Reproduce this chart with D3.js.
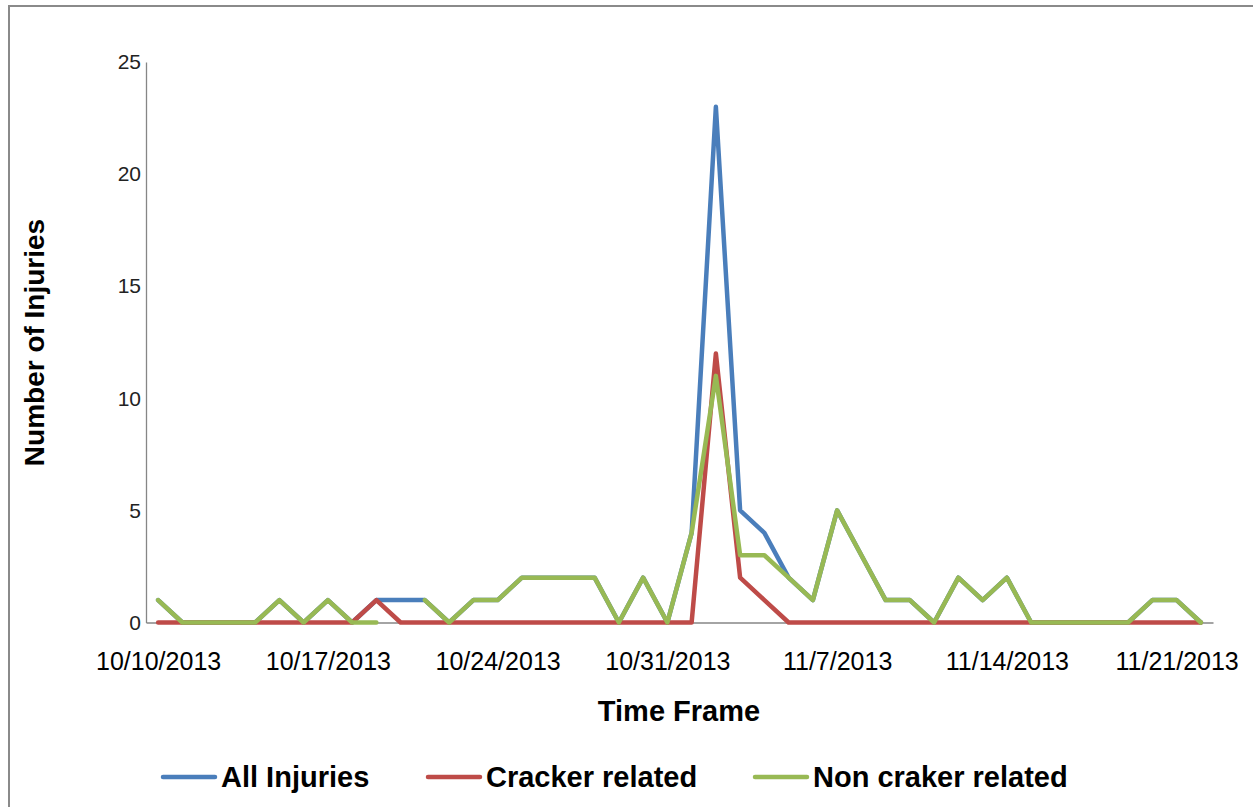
<!DOCTYPE html>
<html>
<head>
<meta charset="utf-8">
<script src="https://cdn.jsdelivr.net/npm/d3@7"></script>
<style>
  html, body { margin: 0; padding: 0; background: #fff; }
  svg { display: block; }
</style>
</head>
<body>
<svg id="chart" width="1253" height="807"></svg>
<script>
const dates = [
  "10/10/2013","10/11/2013","10/12/2013","10/13/2013","10/14/2013","10/15/2013","10/16/2013",
  "10/17/2013","10/18/2013","10/19/2013","10/20/2013","10/21/2013","10/22/2013","10/23/2013",
  "10/24/2013","10/25/2013","10/26/2013","10/27/2013","10/28/2013","10/29/2013","10/30/2013",
  "10/31/2013","11/1/2013","11/2/2013","11/3/2013","11/4/2013","11/5/2013","11/6/2013",
  "11/7/2013","11/8/2013","11/9/2013","11/10/2013","11/11/2013","11/12/2013","11/13/2013",
  "11/14/2013","11/15/2013","11/16/2013","11/17/2013","11/18/2013","11/19/2013","11/20/2013",
  "11/21/2013","11/22/2013"
];
const allInjuries = [1,0,0,0,0,1,0,1,0,1,1,1,0,1,1,2,2,2,2,0,2,0,4,23,5,4,2,1,5,3,1,1,0,2,1,2,0,0,0,0,0,1,1,0];
const crackerRelated = [0,0,0,0,0,0,0,0,0,1,0,0,0,0,0,0,0,0,0,0,0,0,0,12,2,1,0,0,0,0,0,0,0,0,0,0,0,0,0,0,0,0,0,0];
const nonCrackerRelated = [1,0,0,0,0,1,0,1,0,0,null,1,0,1,1,2,2,2,2,0,2,0,4,11,3,3,2,1,5,3,1,1,0,2,1,2,0,0,0,0,0,1,1,0];
const seriesNames = ["All Injuries", "Cracker related", "Non craker related"];
const seriesColors = ["#4a7ebb", "#be4b48", "#98b954"];
const tickLabels = ["10/10/2013","10/17/2013","10/24/2013","10/31/2013","11/7/2013","11/14/2013","11/21/2013"];
const yTicks = [0, 5, 10, 15, 20, 25];
const yTitle = "Number of Injuries";
const xTitle = "Time Frame";

const svg = d3.select("#chart");
const parse = d3.timeParse("%m/%d/%Y");
const fmt = d3.timeFormat("%-m/%-d/%Y");
const DAY = 86400000;

// outer border (left + top visible)
svg.append("rect").attr("x", 9).attr("y", 6).attr("width", 1260).attr("height", 820)
  .attr("fill", "none").attr("stroke", "#8a8a8a").attr("stroke-width", 2);

const plotL = 146, plotR = 1213, plotT = 62, plotB = 622.5;
const d0 = parse(dates[0]), d1 = parse(dates[dates.length - 1]);
const x = d3.scaleTime()
  .domain([new Date(+d0 - DAY / 2), new Date(+d1 + DAY / 2)])
  .range([plotL, plotR]);
const y = d3.scaleLinear().domain([0, 25]).range([plotB, plotT]);

// y axis
const yAxis = svg.append("g").attr("transform", `translate(${plotL},0)`)
  .call(d3.axisLeft(y).tickValues(yTicks).tickSize(0).tickPadding(5));
yAxis.select(".domain").attr("stroke", "#868686").attr("stroke-width", 1.3);
yAxis.selectAll("text").attr("font-family", "Liberation Sans, Arial, sans-serif")
  .attr("font-size", 21).attr("fill", "#222");

// x axis
const xAxis = svg.append("g").attr("transform", `translate(0,${plotB})`)
  .call(d3.axisBottom(x).tickValues(tickLabels.map(parse)).tickSize(0).tickPadding(30).tickFormat(fmt));
xAxis.select(".domain").attr("stroke", "#868686").attr("stroke-width", 1.6);
xAxis.selectAll("text").attr("font-family", "Liberation Sans Narrow, Arial Narrow, Liberation Sans, sans-serif")
  .attr("font-size", 25).attr("fill", "#000");

// lines
const series = [allInjuries, crackerRelated, nonCrackerRelated];
const line = d3.line()
  .defined(d => d.v !== null)
  .x(d => x(d.date))
  .y(d => y(d.v));
series.forEach((vals, si) => {
  const pts = vals.map((v, i) => ({ date: parse(dates[i]), v }));
  svg.append("path").datum(pts)
    .attr("d", line)
    .attr("fill", "none")
    .attr("stroke", seriesColors[si])
    .attr("stroke-width", 4.5)
    .attr("stroke-linejoin", "round")
    .attr("stroke-linecap", "round");
});

// titles
svg.append("text").attr("transform", `translate(44,${(215 + 470) / 2}) rotate(-90)`)
  .attr("text-anchor", "middle").attr("font-family", "Liberation Sans, Arial, sans-serif")
  .attr("font-weight", "bold").attr("font-size", 28).attr("fill", "#000").text(yTitle);
svg.append("text").attr("x", 679).attr("y", 721)
  .attr("text-anchor", "middle").attr("font-family", "Liberation Sans Narrow, Arial Narrow, Liberation Sans, sans-serif")
  .attr("font-weight", "bold").attr("font-size", 29).attr("fill", "#000").text(xTitle);

// legend
const legendX = [163, 428, 755];
seriesNames.forEach((name, i) => {
  const g = svg.append("g").attr("transform", `translate(${legendX[i]},777)`);
  g.append("line").attr("x1", 0).attr("x2", 52).attr("y1", 0).attr("y2", 0)
    .attr("stroke", seriesColors[i]).attr("stroke-width", 4.5).attr("stroke-linecap", "round");
  g.append("text").attr("x", 58).attr("y", 10)
    .attr("font-family", "Liberation Sans Narrow, Arial Narrow, Liberation Sans, sans-serif")
    .attr("font-weight", "bold").attr("font-size", 29).attr("fill", "#000").text(name);
});
</script>
</body>
</html>
